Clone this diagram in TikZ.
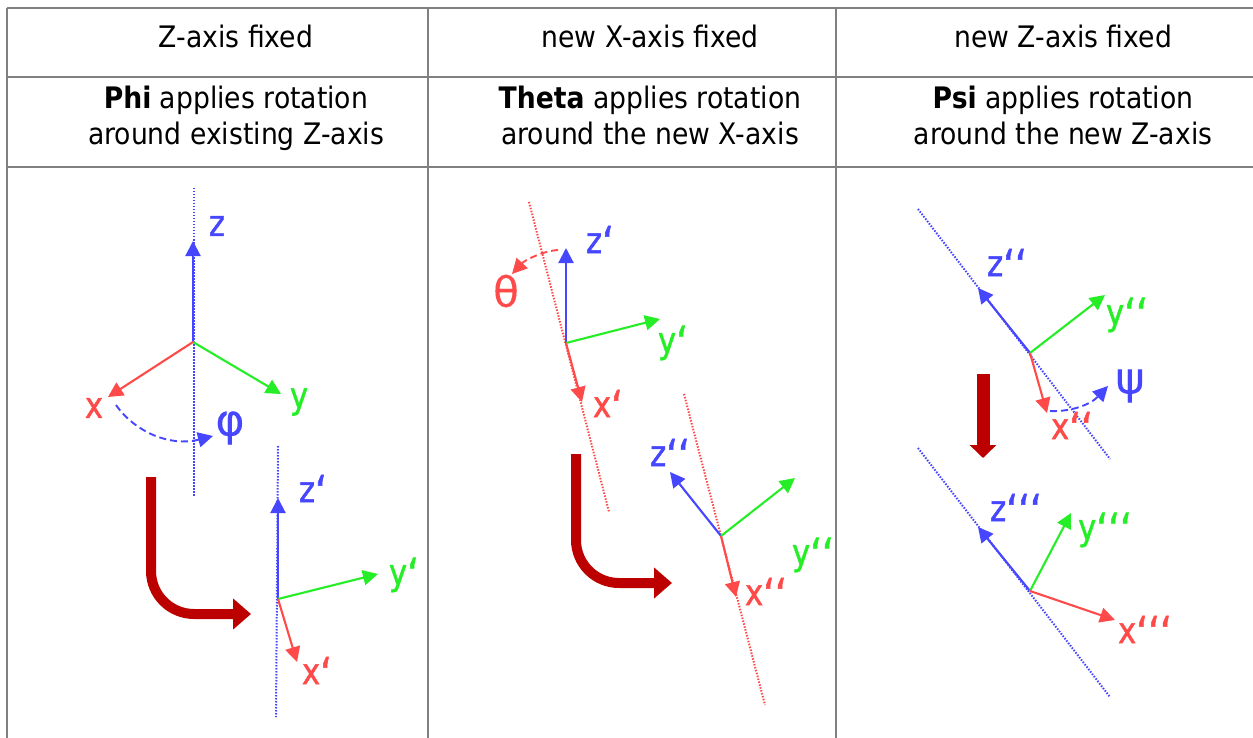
\documentclass[tikz,border=0pt]{standalone}
\usepackage{fontspec}
\setmainfont{DejaVu Sans}[FakeStretch=0.9]
\newfontfamily\axisfont{DejaVu Sans}[FakeStretch=0.85,FakeBold=1.2]
\newfontfamily\anglefont{DejaVu Sans}[FakeBold=0.2]
\newcommand{\tick}{\raisebox{-5pt}{\fontsize{44}{44}\selectfont ‘}}
\usetikzlibrary{arrows.meta}
\definecolor{axisred}{HTML}{FF4A4A}
\definecolor{axisgreen}{HTML}{26EE26}
\definecolor{axisblue}{HTML}{4646FF}
\definecolor{arrowred}{HTML}{BC0000}
\definecolor{gridgray}{HTML}{808080}
\tikzset{
  cell/.style={
    align=center,
    inner sep=0,
    font=\fontsize{29.6}{36}\selectfont
  },
  axlabel/.style={
    inner sep=0,
    font=\axisfont\fontsize{36}{36}\selectfont
  },
  anglabel/.style={
    inner sep=0,
    font=\anglefont\fontsize{44}{44}\selectfont
  },
  axis/.style={
    line width=2.1pt,
    -{Triangle[length=15pt,width=15pt]}
  },
  turn/.style={
    line width=1.9pt,
    dash pattern=on 7pt off 4pt,
    -{Triangle[length=15pt,width=15pt]}
  },
  dotline/.style={
    line width=2pt,
    dash pattern=on 1.5pt off 1.5pt
  },
  bigarrow/.style={
    draw=arrowred,
    line width=10pt,
    rounded corners=43pt,
    -{Triangle[length=18pt,width=30pt]}
  }
}
\begin{document}
\begin{tikzpicture}[x=1pt,y=-1pt]
  \useasboundingbox (0,0) rectangle (1253,738);
  \fill[white] (0,0) rectangle (1253,738);
  % table
  \foreach \y in {8,77,167}{
      \draw[gridgray,line width=2pt] (7,\y)--(1253,\y);
  }
  \foreach \x in {7,428,836}{
      \draw[gridgray,line width=2pt] (\x,8)--(\x,738);
  }
  \node[cell] (h1) at (236,36) {Z-axis fixed};
  \node[cell] (h2) at (650,36) {new X-axis fixed};
  \node[cell] (h3) at (1063,36) {new Z-axis fixed};
  \node[cell] (t1) at (236,118) {\textbf{Phi} applies rotation\\around existing Z-axis};
  \node[cell] (t2) at (650,115) {\textbf{Theta} applies rotation\\around the new X-axis};
  \node[cell] (t3) at (1063,115) {\textbf{Psi} applies rotation\\around the new Z-axis};
  % dotted lines
  \foreach \n/\c/\ax/\ay/\bx/\by in {a/axisblue/194/188/194/497,b/axisblue/278/446/276/717,
      c/axisred/529/202/609/512,d/axisred/684/394/765/705,
      e/axisblue/918/209/1110/459,f/axisblue/918/448/1110/697}{
      \coordinate (da\n) at (\ax,\ay);
      \coordinate (db\n) at (\bx,\by);
      \draw[dotline,\c] (da\n)--(db\n);
  }
  % axes
  \foreach \n/\ox/\oy/\zx/\zy/\yx/\yy/\xx/\xy in {a/193/342/193/241/281/394/108/397,
      b/278/599/278/498/378/574/297/662,
      c/566/343/566/248/660/319/582/402,
      d/721/536/670/472/795/478/736/597,
      e/1030/353/978/288/1105/295/1047/413,
      f/1030/591/978/527/1071/513/1115/620}{
      \coordinate (o\n) at (\ox,\oy);
      \coordinate (tz\n) at (\zx,\zy);
      \coordinate (ty\n) at (\yx,\yy);
      \coordinate (tx\n) at (\xx,\xy);
      \draw[axis,axisblue] (o\n)--(tz\n);
      \draw[axis,axisgreen] (o\n)--(ty\n);
      \draw[axis,axisred] (o\n)--(tx\n);
  }
  \node[axlabel,axisblue] (za) at (217,226) {z};
  \node[axlabel,axisgreen] (ya) at (299,402) {y};
  \node[axlabel,axisred] (xa) at (94,408) {x};
  \node[axlabel,axisblue] (zb) at (313,491) {z\tick};
  \node[axlabel,axisgreen] (yb) at (404,575) {y\tick};
  \node[axlabel,axisred] (xb) at (317,673) {x\tick};
  \node[axlabel,axisblue] (zc) at (600,242) {z\tick};
  \node[axlabel,axisgreen] (yc) at (673,343) {y\tick};
  \node[axlabel,axisred] (xc) at (608,406) {x\tick};
  \node[axlabel,axisblue] (zd) at (670,455) {z\tick\tick};
  \node[axlabel,axisgreen] (yd) at (813,555) {y\tick\tick};
  \node[axlabel,axisred] (xd) at (766,594) {x\tick\tick};
  \node[axlabel,axisblue] (ze) at (1007,265) {z\tick\tick};
  \node[axlabel,axisgreen] (ye) at (1127,315) {y\tick\tick};
  \node[axlabel,axisred] (xe) at (1072,428) {x\tick\tick};
  \node[axlabel,axisblue] (zf) at (1016,510) {z\tick\tick\tick};
  \node[axlabel,axisgreen] (yf) at (1105,530) {y\tick\tick\tick};
  \node[axlabel,axisred] (xf) at (1145,632) {x\tick\tick\tick};
  \node[anglabel,axisblue] (phi) at (230,428) {φ};
  \node[axlabel,axisred,font=\anglefont\fontsize{42}{42}\selectfont] (theta) at (506,291) {θ};
  \node[anglabel,axisblue] (psi) at (1130,386) {ψ};
  % rotation arcs
  \coordinate (phis) at (116,405);
  \coordinate (phie) at (213,436);
  \coordinate (thetas) at (558,250);
  \coordinate (thetae) at (512,274);
  \coordinate (psis) at (1050,411);
  \coordinate (psie) at (1108,386);
  \draw[turn,axisblue] (phis) .. controls (135,432) and (170,447) .. (phie);
  \draw[turn,axisred] (thetas) .. controls (543,251) and (525,260) .. (thetae);
  \draw[turn,axisblue] (psis) .. controls (1070,412) and (1090,405) .. (psie);
  % big arrows
  \coordinate (fa) at (151,477);
  \coordinate (ga) at (251,614);
  \coordinate (fb) at (576,454);
  \coordinate (gb) at (672,583);
  \coordinate (fc) at (983,374);
  \coordinate (gc) at (983,458);
  \draw[bigarrow] (fa) |- (ga);
  \draw[bigarrow] (fb) |- (gb);
  \draw[arrowred,line width=13pt,-{Triangle[length=13pt,width=26pt]}] (fc)--(gc);
\end{tikzpicture}
\end{document}
